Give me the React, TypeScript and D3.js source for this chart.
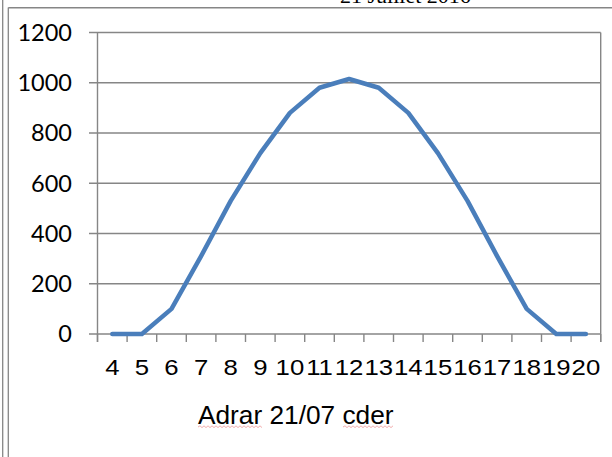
import React from "react";
import * as d3 from "d3";

const hours = ["4","5","6","7","8","9","10","11","12","13","14","15","16","17","18","19","20"];
const irradiance = [0, 0, 100, 310, 530, 720, 880, 980, 1015, 980, 880, 720, 530, 310, 100, 0, 0];
const yTicks = [0, 200, 400, 600, 800, 1000, 1200];
const chartTitle = "Adrar 21/07 cder";
const headerText = "21 Juillet  2016";

const W = 612;
const H = 457;
const plot = { left: 97.5, right: 600.7, top: 32.5, bottom: 334 };
const grid = "#868686";

function wavy(x0: number, x1: number, y: number) {
  let d = `M${x0},${y}`;
  let up = true;
  for (let x = x0 + 2; x <= x1; x += 2) {
    d += ` L${x},${up ? y - 1.2 : y + 0.6}`;
    up = !up;
  }
  return d;
}

export default function App() {
  const x = d3.scaleBand<string>().domain(hours).range([plot.left, plot.right]).padding(0);
  const y = d3.scaleLinear().domain([0, 1200]).range([plot.bottom, plot.top]);
  const line = d3
    .line<number>()
    .x((_, i) => (x(hours[i]) as number) + x.bandwidth() / 2)
    .y((v) => y(v));
  const bounds = hours.map((h) => x(h) as number).concat([plot.right]);

  return (
    <svg width={W} height={H} style={{ position: "absolute", left: 0, top: 0, background: "#fff" }}>
      {/* page frame */}
      <line x1={2.7} y1={0} x2={2.7} y2={H} stroke={grid} strokeWidth={1.3} />
      <line x1={8.3} y1={7.5} x2={8.3} y2={H} stroke={grid} strokeWidth={1.3} />
      <line x1={8.3} y1={7.7} x2={W} y2={7.7} stroke={grid} strokeWidth={1.5} />
      <text x={340} y={3} fontFamily="Liberation Serif, serif" fontSize={22} fill="#000">
        {headerText}
      </text>

      {/* gridlines */}
      {yTicks.map((t) => (
        <line key={t} x1={plot.left - 8.5} x2={plot.right} y1={y(t)} y2={y(t)} stroke={grid} strokeWidth={1.4} />
      ))}
      <line x1={plot.left} x2={plot.left} y1={plot.top} y2={plot.bottom + 8} stroke={grid} strokeWidth={1.4} />
      <line x1={plot.right} x2={plot.right} y1={plot.top} y2={plot.bottom + 8} stroke={grid} strokeWidth={1.4} />
      {bounds.map((b, i) => (
        <line key={i} x1={b} x2={b} y1={plot.bottom} y2={plot.bottom + 8} stroke={grid} strokeWidth={1.4} />
      ))}

      {/* y labels */}
      {yTicks.map((t) => (
        <text key={t} x={72} y={y(t)} dy="0.36em" textAnchor="end" fontFamily="Lato, sans-serif" fontSize={23.5} fill="#000">
          {t}
        </text>
      ))}

      {/* x labels */}
      {hours.map((h) => {
        const cx = (x(h) as number) + x.bandwidth() / 2;
        return (
          <text key={h} transform={`translate(${cx},375) scale(1.12,1)`} textAnchor="middle" fontFamily="Liberation Sans, Arial, sans-serif" fontSize={23} fill="#000">
            {h}
          </text>
        );
      })}

      {/* series */}
      <path d={line(irradiance) || ""} fill="none" stroke="#4a7ebb" strokeWidth={4.5} strokeLinejoin="round" strokeLinecap="round" />

      {/* title */}
      <text transform="translate(198,424) scale(1.05,1)" fontFamily="Liberation Sans, Arial, sans-serif" fontSize={25} fill="#000">
        {chartTitle}
      </text>
      <path d={wavy(198, 262, 427)} fill="none" stroke="#e99" strokeWidth={0.8} />
      <path d={wavy(343, 393, 427)} fill="none" stroke="#e99" strokeWidth={0.8} />
    </svg>
  );
}
